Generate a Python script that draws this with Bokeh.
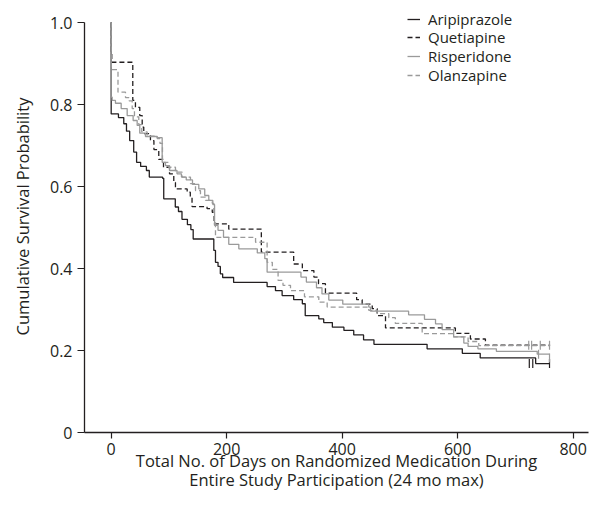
import numpy as np
from bokeh.plotting import figure
from bokeh.models import Range1d, FixedTicker, Legend, LegendItem
from bokeh.embed import file_html
from bokeh.resources import INLINE

# ---- data ----
ari_days = [0, 0, 12.6, 21.8, 26.5, 32, 39, 44, 51, 61, 66, 89, 91, 111, 116.5, 122.6, 132, 138, 142,
            177.7, 180.6, 185, 189, 193, 212, 270, 284.5, 296, 316, 331, 336, 359.5, 368, 383, 403,
            420, 437, 455, 547, 608, 639, 735, 759]
ari_surv = [1.0, 0.777, 0.768, 0.753, 0.735, 0.712, 0.684, 0.659, 0.649, 0.639, 0.623, 0.620, 0.570,
            0.550, 0.539, 0.520, 0.507, 0.495, 0.472, 0.444, 0.415, 0.405, 0.387, 0.378, 0.366, 0.356,
            0.346, 0.334, 0.324, 0.314, 0.285, 0.277, 0.268, 0.257, 0.249, 0.238, 0.226, 0.215, 0.204,
            0.193, 0.182, 0.168, 0.168]

que_days = [0, 0, 1, 37.4, 42, 49.5, 53.7, 56.4, 68, 74, 82.4, 90.6, 101, 108.4, 111.3, 131.6, 137, 140,
            166, 175, 177.7, 203.6, 260, 316, 331, 351, 359, 371, 425, 434.6, 452, 460.6, 475, 596,
            622, 648, 760]
que_surv = [1.0, 0.924, 0.903, 0.810, 0.793, 0.773, 0.745, 0.729, 0.712, 0.690, 0.666, 0.647, 0.631,
            0.610, 0.594, 0.586, 0.574, 0.551, 0.546, 0.537, 0.509, 0.496, 0.440, 0.411, 0.395, 0.379,
            0.363, 0.340, 0.324, 0.313, 0.302, 0.285, 0.255, 0.242, 0.228, 0.213, 0.213]

ris_days = [0, 0, 1.7, 7.4, 17.3, 27.7, 38, 45, 49.5, 59.4, 79.7, 88.3, 94, 101, 114, 121.7, 130, 140.8,
            151.7, 162, 169, 176, 179, 185, 194.5, 203.6, 221, 253, 266, 270, 328.6, 338, 355.5, 365,
            376.8, 401, 446, 449, 515, 542.5, 561.6, 573, 593, 610.6, 618, 635, 667, 737.7, 759]
ris_surv = [1.0, 0.818, 0.810, 0.803, 0.790, 0.773, 0.761, 0.749, 0.730, 0.722, 0.719, 0.659, 0.651,
            0.639, 0.631, 0.623, 0.616, 0.605, 0.594, 0.578, 0.566, 0.556, 0.505, 0.493, 0.476, 0.459,
            0.448, 0.438, 0.424, 0.391, 0.379, 0.367, 0.353, 0.338, 0.323, 0.313, 0.306, 0.296, 0.287,
            0.276, 0.265, 0.251, 0.233, 0.218, 0.210, 0.204, 0.198, 0.191, 0.191]

ola_days = [0, 0, 11.8, 24.8, 31, 36.4, 40.3, 47.8, 53, 62.3, 79.7, 84.5, 88.8, 99.7, 111.3, 123, 137.3,
            146, 154.6, 163.3, 175, 177.7, 180.6, 250, 270, 279, 289, 297.5, 310.5, 334.7, 359.5, 374,
            446, 460.6, 480.7, 492, 538.5, 593, 618, 636.5, 760]
ola_surv = [1.0, 0.885, 0.830, 0.817, 0.809, 0.790, 0.770, 0.751, 0.733, 0.723, 0.717, 0.705, 0.659,
            0.647, 0.635, 0.623, 0.607, 0.590, 0.574, 0.566, 0.559, 0.513, 0.476, 0.464, 0.415, 0.398,
            0.371, 0.359, 0.346, 0.331, 0.318, 0.306, 0.298, 0.290, 0.280, 0.266, 0.241, 0.233, 0.222,
            0.212, 0.212]

# censoring marks
cens_ari_days = [724, 730, 759]
cens_ari_surv = [0.168, 0.168, 0.168]
cens_que_days = [723, 728, 743, 759]
cens_que_surv = [0.213, 0.213, 0.213, 0.213]
cens_ris_days = [740, 759]
cens_ris_surv = [0.191, 0.182]

series_names = ["Aripiprazole", "Quetiapine", "Risperidone", "Olanzapine"]
x_ticks = [0, 200, 400, 600, 800]
y_ticks = [0, 0.2, 0.4, 0.6, 0.8, 1.0]
y_tick_labels = {0: "0", 0.2: "0.2", 0.4: "0.4", 0.6: "0.6", 0.8: "0.8", 1.0: "1.0"}

FONT = "Open Sans"
TXT = "#231f20"
BLACK = "#231f20"
GRAY = "#9a9a9a"

p = figure(width=589, height=512, output_backend="svg", toolbar_location=None,
           x_range=Range1d(-46.2, 826.5), y_range=Range1d(0, 432 / 410))
p.min_border_left = 84
p.min_border_right = 1
p.min_border_top = 0
p.min_border_bottom = 80
p.outline_line_color = None
p.xgrid.grid_line_color = None
p.ygrid.grid_line_color = None
p.background_fill_color = "white"
p.border_fill_color = "white"

r_ari = p.step(ari_days, ari_surv, mode="after", line_color=BLACK, line_width=1.3)
r_que = p.step(que_days, que_surv, mode="after", line_color=BLACK, line_width=1.3, line_dash="5 3")
r_ris = p.step(ris_days, ris_surv, mode="after", line_color=GRAY, line_width=1.3)
r_ola = p.step(ola_days, ola_surv, mode="after", line_color=GRAY, line_width=1.3, line_dash="5 3")

p.dash(cens_ari_days, cens_ari_surv, size=9, angle=np.pi / 2, line_color=BLACK, line_width=1.2)
p.dash(cens_que_days, cens_que_surv, size=9, angle=np.pi / 2, line_color=GRAY, line_width=1.2)
p.dash(cens_ris_days, cens_ris_surv, size=9, angle=np.pi / 2, line_color=GRAY, line_width=1.2)

for ax in (p.xaxis[0], p.yaxis[0]):
    ax.axis_line_color = BLACK
    ax.axis_line_width = 1.3
    ax.major_tick_line_color = BLACK
    ax.major_tick_line_width = 1.2
    ax.major_tick_in = 0
    ax.minor_tick_line_color = None
    ax.major_label_text_font = FONT
    ax.major_label_text_font_size = "16px"
    ax.major_label_text_color = TXT
    ax.axis_label_text_font = FONT
    ax.axis_label_text_font_size = "16.5px"
    ax.axis_label_text_font_style = "normal"
    ax.axis_label_text_color = TXT

p.yaxis.bounds = (0, 1.0)
p.xaxis.ticker = FixedTicker(ticks=x_ticks)
p.yaxis.ticker = FixedTicker(ticks=y_ticks)
p.yaxis.major_label_overrides = y_tick_labels
p.xaxis.major_tick_out = 6
p.yaxis.major_tick_out = 7
p.xaxis.major_label_standoff = 4
p.yaxis.major_label_standoff = 5
p.xaxis.axis_label = "Total No. of Days on Randomized Medication During\nEntire Study Participation (24 mo max)"
p.xaxis.axis_label_text_line_height = 0.85
p.yaxis.axis_label = "Cumulative Survival Probability"
p.xaxis.axis_label_standoff = -9
p.yaxis.axis_label_standoff = 13

leg_vy = [402, 384, 365, 346]
items = [r_ari, r_que, r_ris, r_ola]
for name, rend, vy in zip(series_names, items, leg_vy):
    lg = Legend(items=[LegendItem(label=name, renderers=[rend])], location=(323, vy))
    lg.border_line_color = None
    lg.background_fill_alpha = 0
    lg.padding = 0
    lg.margin = 0
    lg.spacing = 0
    lg.glyph_width = 13
    lg.glyph_height = 22
    lg.label_height = 22
    lg.label_standoff = 8
    lg.label_text_font = FONT
    lg.label_text_font_size = "15px"
    lg.label_text_color = TXT
    lg.label_text_baseline = "middle"
    p.add_layout(lg, "center")

open("out.html", "w").write(file_html(p, INLINE))
